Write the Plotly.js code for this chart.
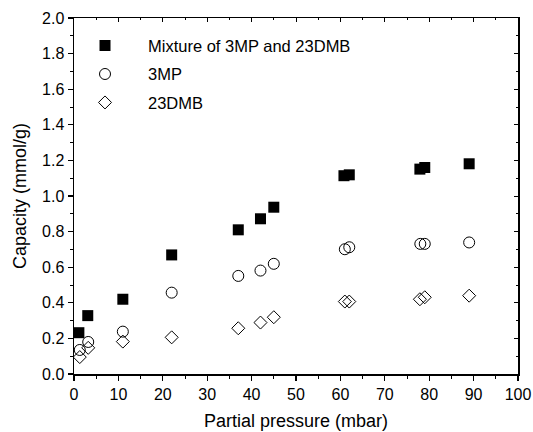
<!DOCTYPE html>
<html>
<head>
<meta charset="utf-8">
<script src="https://cdn.plot.ly/plotly-3.0.1.min.js"></script>
<style>html,body{margin:0;padding:0;background:#fff;}#chart{width:533px;height:432px;}</style>
</head>
<body>
<div id="chart"></div>
<script>
const seriesNames = ["Mixture of 3MP and 23DMB", "3MP", "23DMB"];
const mixX = [1.1, 3.1, 11, 22, 37, 42, 45, 60.8, 62, 77.9, 79, 89];
const mixY = [0.232, 0.328, 0.42, 0.669, 0.81, 0.872, 0.937, 1.114, 1.119, 1.151, 1.16, 1.181];
const mpX = [1.3, 3.2, 11, 22, 37, 42, 45, 61, 62, 78, 79, 89];
const mpY = [0.135, 0.18, 0.238, 0.457, 0.551, 0.581, 0.619, 0.701, 0.712, 0.731, 0.731, 0.739];
const dmbX = [1.3, 3.2, 11, 22, 37, 42, 45, 61, 62, 77.9, 79, 89];
const dmbY = [0.095, 0.147, 0.182, 0.206, 0.257, 0.289, 0.319, 0.407, 0.407, 0.42, 0.431, 0.44];
const xTitle = "Partial pressure (mbar)";
const yTitle = "Capacity (mmol/g)";

const FONT = "Liberation Sans, Arial, Helvetica, sans-serif";

const traces = [
  {x: mixX, y: mixY, name: seriesNames[0], type: "scatter", mode: "markers", legendgroup: "a",
   marker: {symbol: "square", size: 11, color: "#000"}},
  {x: mpX, y: mpY, name: seriesNames[1], type: "scatter", mode: "markers", legendgroup: "b",
   marker: {symbol: "circle-open", size: 11, color: "#000", line: {width: 1, color: "#000"}}},
  {x: dmbX, y: dmbY, name: seriesNames[2], type: "scatter", mode: "markers", legendgroup: "c",
   marker: {symbol: "diamond-open", size: 10, color: "#000", line: {width: 1, color: "#000"}}},
  {x: [], y: [], xaxis: "x2", yaxis: "y2", showlegend: false, hoverinfo: "skip", type: "scatter"}
];

const axisCommon = {
  showgrid: false, zeroline: false, showline: true, linecolor: "#000", linewidth: 1.5,
  ticks: "outside", ticklen: 5, tickwidth: 1.2, tickcolor: "#000",
  tickfont: {family: FONT, size: 16, color: "#000"}
};

const layout = {
  width: 533, height: 432,
  margin: {l: 74, r: 15, t: 18, b: 58},
  paper_bgcolor: "#fff", plot_bgcolor: "#fff",
  font: {family: FONT, color: "#000"},
  showlegend: true,
  legend: {x: -0.027, y: 0.971, xanchor: "left", yanchor: "top", bgcolor: "rgba(0,0,0,0)",
           font: {family: FONT, size: 16.5, color: "#000"}, itemwidth: 76,
           traceorder: "grouped", tracegroupgap: 4},
  xaxis: Object.assign({}, axisCommon, {
    range: [0, 100], dtick: 10, tick0: 0,
    minor: {dtick: 5, ticks: "outside", ticklen: 3, tickcolor: "#000", tickwidth: 1},
    title: {text: xTitle, font: {family: FONT, size: 18, color: "#000"}, standoff: 12}
  }),
  yaxis: Object.assign({}, axisCommon, {
    range: [0, 2.0], dtick: 0.2, tick0: 0, tickformat: ".1f",
    minor: {dtick: 0.1, ticks: "outside", ticklen: 3, tickcolor: "#000", tickwidth: 1},
    title: {text: yTitle, font: {family: FONT, size: 18, color: "#000"}, standoff: 10}
  }),
  xaxis2: {overlaying: "x", side: "top", anchor: "y2", range: [0, 100], dtick: 10,
    showgrid: false, zeroline: false, showline: true, linecolor: "#000", linewidth: 1.5,
    ticks: "inside", ticklen: 4, tickwidth: 1, tickcolor: "#000", showticklabels: false,
    minor: {dtick: 5, ticks: "inside", ticklen: 2, tickcolor: "#000"}},
  yaxis2: {overlaying: "y", side: "right", anchor: "x2", range: [0, 2.0], dtick: 0.2,
    showgrid: false, zeroline: false, showline: true, linecolor: "#000", linewidth: 1.5,
    ticks: "inside", ticklen: 4, tickwidth: 1, tickcolor: "#000", showticklabels: false,
    minor: {dtick: 0.1, ticks: "inside", ticklen: 2, tickcolor: "#000"}}
};

Plotly.newPlot("chart", traces, layout, {staticPlot: true, displayModeBar: false});
</script>
</body>
</html>
